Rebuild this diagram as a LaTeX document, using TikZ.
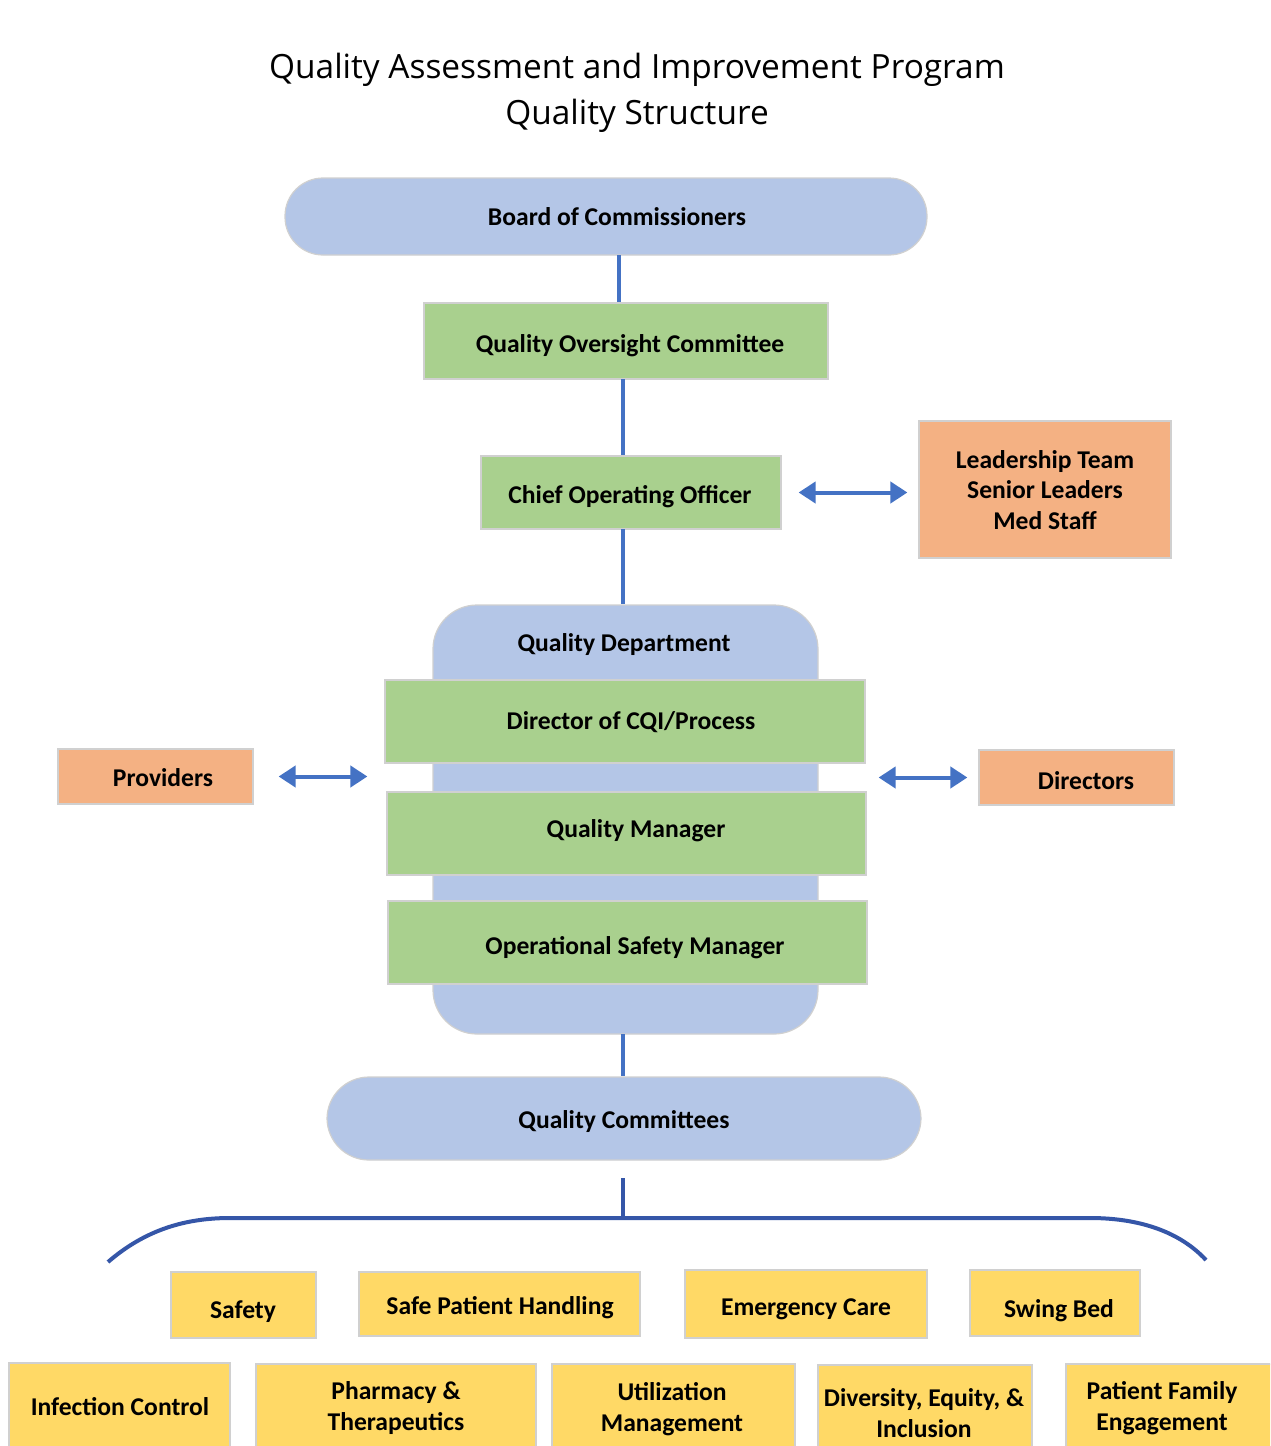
\documentclass[tikz,border=0pt]{standalone}
\usepackage{fontspec}
\setmainfont{Carlito}
\newfontfamily\titlefont{Open Sans}
\usetikzlibrary{arrows.meta,fit}
\definecolor{bluefill}{HTML}{B4C6E7}
\definecolor{greenfill}{HTML}{A9D08E}
\definecolor{orangefill}{HTML}{F4B183}
\definecolor{yellowfill}{HTML}{FFD966}
\definecolor{linkblue}{HTML}{4472C4}
\definecolor{bracecol}{HTML}{3556A8}
\definecolor{edgegray}{HTML}{D0D0D0}
\tikzset{
  base/.style={draw=edgegray, line width=0.6pt, inner sep=0pt},
  bluebox/.style={base, fill=bluefill},
  greenbox/.style={base, fill=greenfill},
  orangebox/.style={base, fill=orangefill},
  yellowbox/.style={base, fill=yellowfill},
  lbl/.style={font=\fontsize{12.8}{15.2}\selectfont\bfseries, text=black, inner sep=0pt, anchor=mid, yshift=-1.75pt},
  mlbl/.style={font=\fontsize{12.8}{15.2}\selectfont\bfseries, text=black, inner sep=0pt, align=center, anchor=center},
  link/.style={draw=linkblue, line width=2pt},
  dbl/.style={draw=linkblue, line width=2pt, {Triangle[width=10.5pt,length=8.5pt]}-{Triangle[width=10.5pt,length=8.5pt]}},
  bracestyle/.style={draw=bracecol, line width=2pt},
}
\begin{document}
\begin{tikzpicture}[x=0.5pt,y=-0.5pt]
\useasboundingbox (0,0) rectangle (1270,1446);
\clip (0,0) rectangle (1270,1446);
\fill[white] (0,0) rectangle (1270,1446);

% title
\node[font=\titlefont\fontsize{16.7}{23}\selectfont, align=center, inner sep=0pt] (title) at (637,93)
  {Quality Assessment and Improvement Program\\Quality Structure};

% main chain
\node[bluebox, rounded corners=19pt, fit={(285,178)(927,255)}] (board) {};
\node[lbl] (boardt) at (617,217) {Board of Commissioners};
\node[greenbox, fit={(424,303)(828,379)}] (qoc) {};
\node[lbl] (qoct) at (630,344) {Quality Oversight Committee};
\node[greenbox, fit={(481,456)(781,529)}] (coo) {};
\node[lbl] (coot) at (630,495) {Chief Operating Officer};
\node[orangebox, fit={(919,421)(1171,558)}] (lead) {};
\node[mlbl] (leadt) at (1045,490) {Leadership Team\\Senior Leaders\\Med Staff};

% quality department container
\node[bluebox, rounded corners=22pt, fit={(433,605)(818,1034)}] (qd) {};
\node[lbl] (qdt) at (624,643) {Quality Department};
\node[greenbox, fit={(385,680)(865,763)}] (dir) {};
\node[lbl] (dirt) at (631,721) {Director of CQI/Process};
\node[greenbox, fit={(387,792)(866,875)}] (qm) {};
\node[lbl] (qmt) at (636,829) {Quality Manager};
\node[greenbox, fit={(388,901)(867,984)}] (osm) {};
\node[lbl] (osmt) at (635,946) {Operational Safety Manager};

\node[orangebox, fit={(58,749)(253,804)}] (prov) {};
\node[lbl] (provt) at (163,778) {Providers};
\node[orangebox, fit={(979,750)(1174,805)}] (dirs) {};
\node[lbl] (dirst) at (1086,781) {Directors};

\node[bluebox, rounded corners=21pt, fit={(327,1077)(921,1160)}] (qc) {};
\node[lbl] (qct) at (624,1120) {Quality Committees};

% connectors
\coordinate (c1) at (619,255);
\draw[link] (c1) -- (c1 |- qoc.north);
\coordinate (c2) at (623,379);
\draw[link] (c2) -- (c2 |- coo.north);
\coordinate (c3) at (623,529);
\draw[link] (c3) -- (c3 |- qd.north);
\coordinate (c4) at (623,1034);
\draw[link] (c4) -- (c4 |- qc.north);

\draw[dbl] ([xshift=8.5pt]coo.east) -- ([xshift=-5.5pt]lead.west |- coo.east);
\draw[dbl] ([xshift=12.5pt]prov.east) -- ([xshift=-8.5pt]prov.east -| dir.west);
\draw[dbl] ([xshift=6pt]dirs.west -| qm.east) -- ([xshift=-5.5pt]dirs.west);

% brace
\coordinate (bt) at (623,1178);
\coordinate (bj) at (623,1218);
\draw[bracestyle] (bt) -- (bj);
\coordinate (bl) at (108,1262);
\coordinate (br) at (1206,1260);
\draw[bracestyle] (bl) .. controls (145,1230) and (185,1218) .. (230,1218) -- (bj) -- (1090,1218)
  .. controls (1140,1218) and (1180,1232) .. (br);

% committees row 1
\node[yellowbox, fit={(171,1272)(316,1338)}] (safety) {};
\node[lbl] (safetyt) at (243,1310) {Safety};
\node[yellowbox, fit={(359,1272)(640,1336)}] (sph) {};
\node[lbl] (spht) at (500,1306) {Safe Patient Handling};
\node[yellowbox, fit={(685,1270)(927,1338)}] (ec) {};
\node[lbl] (ect) at (806,1307) {Emergency Care};
\node[yellowbox, fit={(970,1270)(1140,1336)}] (swing) {};
\node[lbl] (swingt) at (1059,1309) {Swing Bed};

% committees row 2
\node[yellowbox, fit={(9,1363)(230,1450)}] (ic) {};
\node[lbl] (ict) at (120,1407) {Infection Control};
\node[yellowbox, fit={(256,1364)(536,1450)}] (pharm) {};
\node[mlbl] (pharmt) at (396,1408) {Pharmacy \&\\Therapeutics};
\node[yellowbox, fit={(552,1364)(795,1450)}] (um) {};
\node[mlbl] (umt) at (672,1409) {Utilization\\Management};
\node[yellowbox, fit={(818,1365)(1032,1455)}] (dei) {};
\node[mlbl] (deit) at (924,1413) {Diversity, Equity, \&\\Inclusion};
\node[yellowbox, fit={(1066,1364)(1275,1450)}] (pfe) {};
\node[mlbl] (pfet) at (1162,1408) {Patient Family\\Engagement};
\end{tikzpicture}
\end{document}
